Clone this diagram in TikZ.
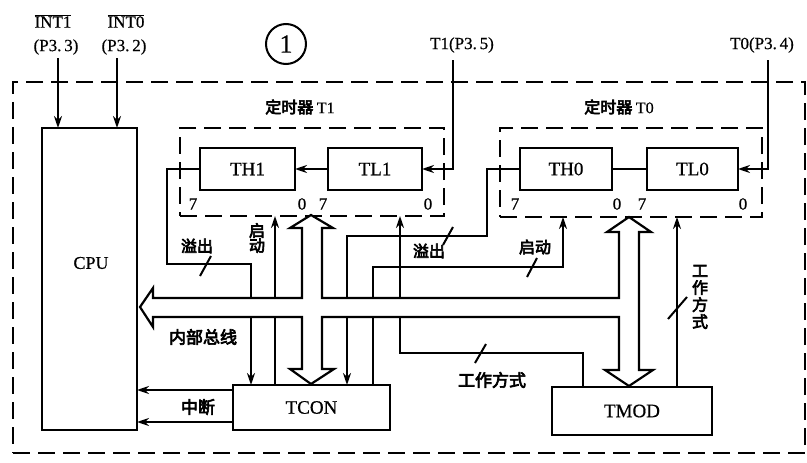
\documentclass[tikz,border=0pt]{standalone}
\usepackage{fontspec}
\setmainfont{Liberation Serif}[FakeBold=0.6]
\newfontfamily\cjk{Noto Sans CJK SC}[FakeBold=4]
\usetikzlibrary{arrows.meta}
\begin{document}
\begin{tikzpicture}[x=1pt,y=-1pt, line width=2pt, line join=miter,
  box/.style={draw, line width=2.2pt, inner sep=0pt, outer sep=0pt, font=\fontsize{19}{19}\selectfont},
  dbox/.style={draw, dash pattern=on 17pt off 8pt, line width=2.2pt, inner sep=0pt, outer sep=0pt},
  lbl/.style={font=\fontsize{17}{17}\selectfont, inner sep=0pt},
  cn/.style={font=\cjk\fontsize{16}{17}\selectfont, inner sep=0pt},
  cnb/.style={font=\cjk\fontsize{17}{18}\selectfont, inner sep=0pt},
  tip/.style={-{Stealth[length=12pt,width=8pt]}},
]
\useasboundingbox (0,0) rectangle (807,463);
% dashed frames
\node[dbox, minimum width=792pt, minimum height=371pt] (outer) at (409,267.5) {};
\node[dbox, minimum width=264pt, minimum height=88pt] (t1box) at (312,172) {};
\node[dbox, minimum width=262pt, minimum height=89pt] (t0box) at (631,172.5) {};
% boxes
\node[box, minimum width=95pt, minimum height=302pt] (cpu) at (89.5,279) {};
\node[inner sep=0pt, font=\fontsize{18}{18}\selectfont] (cpul) at (91,263) {CPU};
\node[box, minimum width=95pt, minimum height=42pt] (th1) at (247.5,169) {TH1};
\node[box, minimum width=94pt, minimum height=42pt] (tl1) at (375,169) {TL1};
\node[box, minimum width=92pt, minimum height=42pt] (th0) at (566,169) {TH0};
\node[box, minimum width=91pt, minimum height=42pt] (tl0) at (692.5,169) {TL0};
\node[box, minimum width=157pt, minimum height=45pt] (tcon) at (311.5,407.5) {TCON};
\node[box, minimum width=160pt, minimum height=48pt] (tmod) at (632,411) {TMOD};
% top labels
\node[lbl] (int1) at (53,21) {$\overline{\hbox{INT1}}$};
\node[lbl] (int0) at (126,21) {$\overline{\hbox{INT0}}$};
\node[lbl] (p33) at (56,47) {(P3.\,3)};
\node[lbl] (p32) at (124,47) {(P3.\,2)};
\node[circle, draw, line width=2pt, minimum size=40pt, inner sep=0pt, font=\fontsize{26}{26}\selectfont] (c1) at (286,44) {1};
\node[lbl] (p35) at (462,45) {T1(P3.\,5)};
\node[lbl] (p34) at (762,45) {T0(P3.\,4)};
\node[cn] (t1t) at (300,107) {定时器 \textrm{T1}};
\node[cn] (t0t) at (619,107) {定时器 \textrm{T0}};
% bit labels
\node[lbl] (b1) at (193,204) {7};
\node[lbl] (b2) at (302,204) {0};
\node[lbl] (b3) at (323,204) {7};
\node[lbl] (b4) at (428,204) {0};
\node[lbl] (b5) at (515,204) {7};
\node[lbl] (b6) at (617,204) {0};
\node[lbl] (b7) at (642,204) {7};
\node[lbl] (b8) at (743,204) {0};
% internal bus
\draw[line width=2.2pt, fill=white] (140,307) -- (153,288) -- (153,298) -- (302,298) -- (302,228) -- (290,228) -- (311,215) -- (333,228) -- (322,228) -- (322,298) -- (619,298) -- (619,232) -- (607,232) -- (629,217) -- (651,232) -- (639,232) -- (639,370) -- (653,370) -- (629,386) -- (605,370) -- (619,370) -- (619,317) -- (322,317) -- (322,369) -- (334,369) -- (311,384) -- (290,369) -- (302,369) -- (302,317) -- (153,317) -- (153,327) -- cycle;
% external inputs
\coordinate (i1) at (58,58);
\coordinate (i0) at (117,58);
\draw[tip] (i1) -- (i1 |- cpu.north);
\draw[tip] (i0) -- (i0 |- cpu.north);
\coordinate (t1in) at (453,60);
\coordinate (t0in) at (768,60);
\draw[tip] (t1in) |- (tl1.east);
\draw[tip] (t0in) |- (tl0.east);
\draw[tip] (tl1.west) -- (th1.east);
\draw (th0.east) -- (tl0.west);
% interrupts
\coordinate (q1) at (0,390);
\coordinate (q2) at (0,422);
\draw[tip] (tcon.west |- q1) -- (cpu.east |- q1);
\draw[tip] (tcon.west |- q2) -- (cpu.east |- q2);
% T1 overflow
\draw (th1.west) -| (167,264) -| (251,298);
\coordinate (o1) at (251,317);
\draw[tip] (o1) -- (o1 |- tcon.north);
% T1 start
\coordinate (s1b) at (275,317);
\coordinate (s1a) at (275,298);
\draw (tcon.north -| s1b) -- (s1b);
\draw[tip] (s1a) -- (s1a |- t1box.south);
% T0 overflow
\draw (th0.west) -| (487,236) -| (347,298);
\coordinate (o0) at (347,317);
\draw[tip] (o0) -- (o0 |- tcon.north);
% T0 start
\coordinate (s0) at (373,317);
\coordinate (s0a) at (373,298);
\coordinate (s0c) at (563,267);
\draw (tcon.north -| s0) -- (s0);
\draw[tip] (s0a) |- (s0c) -- (s0c |- t0box.south);
% TMOD -> T1 mode
\coordinate (m1) at (583,353);
\coordinate (m1b) at (400,317);
\coordinate (m1a) at (400,298);
\draw (tmod.north -| m1) -- (m1) -| (m1b);
\draw[tip] (m1a) -- (m1a |- t1box.south);
% TMOD -> T0 mode
\coordinate (m0) at (677,300);
\draw[tip] (tmod.north -| m0) -- (m0 |- t0box.south);
% slashes
\draw (200,276) -- (211,256);
\draw (443,245) -- (453,227);
\draw (527,277) -- (537,258);
\draw (475,363) -- (486,344);
\draw (668,319) -- (687,297);
% chinese labels
\node[cn] (ovf1) at (197,246) {溢出};
\node[cn] (ovf0) at (429,251) {溢出};
\node[cn, align=center] (st1) at (257,238) {启\\[-2pt]动};
\node[cn] (st0) at (535,247) {启动};
\node[cnb] (bus) at (203,337) {内部总线};
\node[cnb] (irq) at (198,407) {中断};
\node[cnb] (md1) at (492,380) {工作方式};
\node[cn, align=center] (md0) at (700,297) {工\\作\\方\\式};
\end{tikzpicture}
\end{document}
